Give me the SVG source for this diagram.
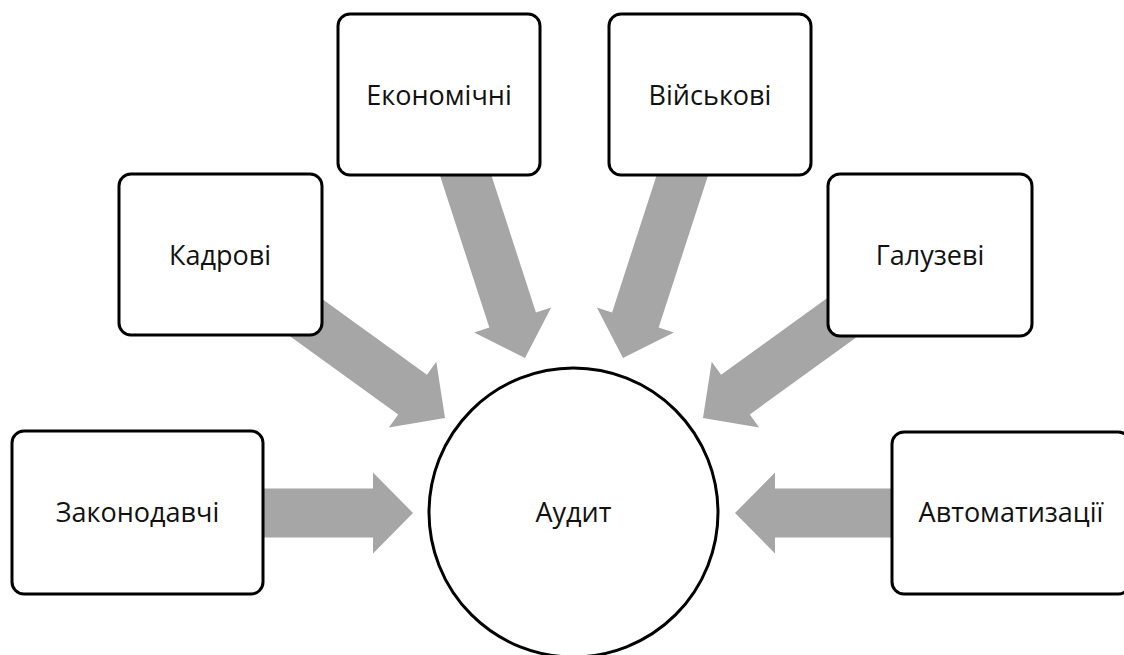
<svg xmlns="http://www.w3.org/2000/svg" width="1124" height="655" viewBox="0 0 1124 655">
<style>
.box{fill:#ffffff;stroke:#000000;stroke-width:3}
.arr{fill:#a6a6a6;stroke:none}
.lbl{font-family:"Open Sans","Noto Sans","Liberation Sans",sans-serif;font-size:27px;fill:#111111;text-anchor:middle}
</style>
<defs>
<path id="ar" d="M-220,-24.5 L-40,-24.5 L-40,-40.5 L0,0 L-40,40.5 L-40,24.5 L-220,24.5 Z"/>
</defs>
<rect width="1124" height="655" fill="#ffffff"/>
<g id="connectors">
<use href="#ar" class="arr" transform="translate(413,513)"/>
<use href="#ar" class="arr" transform="translate(735,513) rotate(180)"/>
<use href="#ar" class="arr" transform="translate(445,418) rotate(35.85)"/>
<use href="#ar" class="arr" transform="translate(703,418) rotate(144.15)"/>
<use href="#ar" class="arr" transform="translate(525,358) rotate(72)"/>
<use href="#ar" class="arr" transform="translate(623,358) rotate(108)"/>
</g>
<g id="node-zakonodavchi">
<rect class="box" x="12" y="431" width="251" height="163" rx="12"/>
<text class="lbl" x="137.5" y="522">Законодавчі</text>
</g>
<g id="node-kadrovi">
<rect class="box" x="119" y="174" width="203" height="161" rx="12"/>
<text class="lbl" x="220" y="265">Кадрові</text>
</g>
<g id="node-ekonomichni">
<rect class="box" x="338" y="14" width="202" height="161" rx="12"/>
<text class="lbl" x="439" y="105">Економічні</text>
</g>
<g id="node-viiskovi">
<rect class="box" x="609" y="14" width="202" height="161" rx="12"/>
<text class="lbl" x="710" y="105">Військові</text>
</g>
<g id="node-haluzevi">
<rect class="box" x="828" y="174" width="204" height="162" rx="12"/>
<text class="lbl" x="930" y="265">Галузеві</text>
</g>
<g id="node-avtomatyzatsii">
<rect class="box" x="892" y="432" width="238" height="162" rx="12"/>
<text class="lbl" x="1011" y="522">Автоматизації</text>
</g>
<g id="node-audyt">
<circle class="box" cx="573.5" cy="512.5" r="144.5"/>
<text class="lbl" x="573.5" y="522">Аудит</text>
</g>
</svg>
